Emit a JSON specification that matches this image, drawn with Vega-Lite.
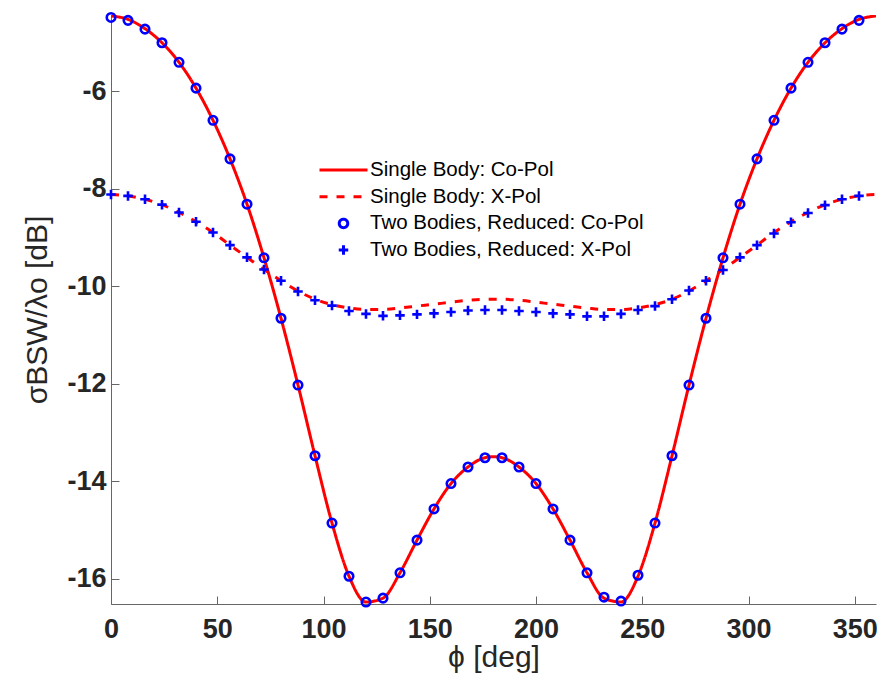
{
  "$schema": "https://vega.github.io/schema/vega-lite/v6.json",
  "width": 765,
  "height": 589,
  "autosize": {"type": "none"},
  "padding": {"left": 111, "top": 15, "right": 5, "bottom": 89},
  "config": {
    "view": {"stroke": null},
    "font": "Liberation Sans",
    "axis": {
      "domainColor": "#666666",
      "domainWidth": 1,
      "tickColor": "#666666",
      "tickSize": -8,
      "tickWidth": 1,
      "grid": false,
      "labelFlush": false,
      "labelOverlap": false,
      "labelFont": "Liberation Sans",
      "labelFontWeight": "bold",
      "labelFontSize": 27,
      "labelColor": "#262626",
      "labelExpr": "'' + datum.value",
      "titleFont": "Liberation Sans",
      "titleFontWeight": "normal",
      "titleFontSize": 30,
      "titleColor": "#262626"
    },
    "legend": {
      "padding": 0,
      "labelFont": "Liberation Sans",
      "labelFontSize": 20.5,
      "labelColor": "#000000",
      "labelOffset": 1,
      "rowPadding": 4.7,
      "clipHeight": 22,
      "symbolStrokeWidth": 3,
      "labelLimit": 400
    }
  },
  "datasets": {
    "lines": [
      {"phi": 0, "value": -4.46, "series": "Single Body: Co-Pol"},
      {"phi": 8, "value": -4.53, "series": "Single Body: Co-Pol"},
      {"phi": 16, "value": -4.72, "series": "Single Body: Co-Pol"},
      {"phi": 24, "value": -5.01, "series": "Single Body: Co-Pol"},
      {"phi": 32, "value": -5.41, "series": "Single Body: Co-Pol"},
      {"phi": 40, "value": -5.94, "series": "Single Body: Co-Pol"},
      {"phi": 48, "value": -6.6, "series": "Single Body: Co-Pol"},
      {"phi": 56, "value": -7.39, "series": "Single Body: Co-Pol"},
      {"phi": 64, "value": -8.32, "series": "Single Body: Co-Pol"},
      {"phi": 72, "value": -9.42, "series": "Single Body: Co-Pol"},
      {"phi": 80, "value": -10.66, "series": "Single Body: Co-Pol"},
      {"phi": 88, "value": -12.03, "series": "Single Body: Co-Pol"},
      {"phi": 96, "value": -13.48, "series": "Single Body: Co-Pol"},
      {"phi": 104, "value": -14.86, "series": "Single Body: Co-Pol"},
      {"phi": 112, "value": -15.95, "series": "Single Body: Co-Pol"},
      {"phi": 120, "value": -16.48, "series": "Single Body: Co-Pol"},
      {"phi": 128, "value": -16.4, "series": "Single Body: Co-Pol"},
      {"phi": 136, "value": -15.88, "series": "Single Body: Co-Pol"},
      {"phi": 144, "value": -15.21, "series": "Single Body: Co-Pol"},
      {"phi": 152, "value": -14.57, "series": "Single Body: Co-Pol"},
      {"phi": 160, "value": -14.05, "series": "Single Body: Co-Pol"},
      {"phi": 168, "value": -13.71, "series": "Single Body: Co-Pol"},
      {"phi": 176, "value": -13.52, "series": "Single Body: Co-Pol"},
      {"phi": 180, "value": -13.5, "series": "Single Body: Co-Pol"},
      {"phi": 184, "value": -13.52, "series": "Single Body: Co-Pol"},
      {"phi": 192, "value": -13.71, "series": "Single Body: Co-Pol"},
      {"phi": 200, "value": -14.05, "series": "Single Body: Co-Pol"},
      {"phi": 208, "value": -14.57, "series": "Single Body: Co-Pol"},
      {"phi": 216, "value": -15.21, "series": "Single Body: Co-Pol"},
      {"phi": 224, "value": -15.88, "series": "Single Body: Co-Pol"},
      {"phi": 232, "value": -16.4, "series": "Single Body: Co-Pol"},
      {"phi": 240, "value": -16.48, "series": "Single Body: Co-Pol"},
      {"phi": 248, "value": -15.95, "series": "Single Body: Co-Pol"},
      {"phi": 256, "value": -14.86, "series": "Single Body: Co-Pol"},
      {"phi": 264, "value": -13.48, "series": "Single Body: Co-Pol"},
      {"phi": 272, "value": -12.03, "series": "Single Body: Co-Pol"},
      {"phi": 280, "value": -10.66, "series": "Single Body: Co-Pol"},
      {"phi": 288, "value": -9.42, "series": "Single Body: Co-Pol"},
      {"phi": 296, "value": -8.32, "series": "Single Body: Co-Pol"},
      {"phi": 304, "value": -7.39, "series": "Single Body: Co-Pol"},
      {"phi": 312, "value": -6.6, "series": "Single Body: Co-Pol"},
      {"phi": 320, "value": -5.94, "series": "Single Body: Co-Pol"},
      {"phi": 328, "value": -5.41, "series": "Single Body: Co-Pol"},
      {"phi": 336, "value": -5.01, "series": "Single Body: Co-Pol"},
      {"phi": 344, "value": -4.72, "series": "Single Body: Co-Pol"},
      {"phi": 352, "value": -4.53, "series": "Single Body: Co-Pol"},
      {"phi": 360, "value": -4.46, "series": "Single Body: Co-Pol"},
      {"phi": 0, "value": -8.12, "series": "Single Body: X-Pol"},
      {"phi": 8, "value": -8.15, "series": "Single Body: X-Pol"},
      {"phi": 16, "value": -8.22, "series": "Single Body: X-Pol"},
      {"phi": 24, "value": -8.33, "series": "Single Body: X-Pol"},
      {"phi": 32, "value": -8.49, "series": "Single Body: X-Pol"},
      {"phi": 40, "value": -8.68, "series": "Single Body: X-Pol"},
      {"phi": 48, "value": -8.9, "series": "Single Body: X-Pol"},
      {"phi": 56, "value": -9.16, "series": "Single Body: X-Pol"},
      {"phi": 64, "value": -9.41, "series": "Single Body: X-Pol"},
      {"phi": 72, "value": -9.66, "series": "Single Body: X-Pol"},
      {"phi": 80, "value": -9.89, "series": "Single Body: X-Pol"},
      {"phi": 88, "value": -10.1, "series": "Single Body: X-Pol"},
      {"phi": 96, "value": -10.27, "series": "Single Body: X-Pol"},
      {"phi": 104, "value": -10.38, "series": "Single Body: X-Pol"},
      {"phi": 112, "value": -10.45, "series": "Single Body: X-Pol"},
      {"phi": 120, "value": -10.48, "series": "Single Body: X-Pol"},
      {"phi": 128, "value": -10.48, "series": "Single Body: X-Pol"},
      {"phi": 136, "value": -10.45, "series": "Single Body: X-Pol"},
      {"phi": 144, "value": -10.41, "series": "Single Body: X-Pol"},
      {"phi": 152, "value": -10.37, "series": "Single Body: X-Pol"},
      {"phi": 160, "value": -10.33, "series": "Single Body: X-Pol"},
      {"phi": 168, "value": -10.29, "series": "Single Body: X-Pol"},
      {"phi": 176, "value": -10.27, "series": "Single Body: X-Pol"},
      {"phi": 180, "value": -10.27, "series": "Single Body: X-Pol"},
      {"phi": 184, "value": -10.27, "series": "Single Body: X-Pol"},
      {"phi": 192, "value": -10.29, "series": "Single Body: X-Pol"},
      {"phi": 200, "value": -10.33, "series": "Single Body: X-Pol"},
      {"phi": 208, "value": -10.37, "series": "Single Body: X-Pol"},
      {"phi": 216, "value": -10.41, "series": "Single Body: X-Pol"},
      {"phi": 224, "value": -10.45, "series": "Single Body: X-Pol"},
      {"phi": 232, "value": -10.48, "series": "Single Body: X-Pol"},
      {"phi": 240, "value": -10.48, "series": "Single Body: X-Pol"},
      {"phi": 248, "value": -10.45, "series": "Single Body: X-Pol"},
      {"phi": 256, "value": -10.38, "series": "Single Body: X-Pol"},
      {"phi": 264, "value": -10.27, "series": "Single Body: X-Pol"},
      {"phi": 272, "value": -10.1, "series": "Single Body: X-Pol"},
      {"phi": 280, "value": -9.89, "series": "Single Body: X-Pol"},
      {"phi": 288, "value": -9.66, "series": "Single Body: X-Pol"},
      {"phi": 296, "value": -9.41, "series": "Single Body: X-Pol"},
      {"phi": 304, "value": -9.16, "series": "Single Body: X-Pol"},
      {"phi": 312, "value": -8.9, "series": "Single Body: X-Pol"},
      {"phi": 320, "value": -8.68, "series": "Single Body: X-Pol"},
      {"phi": 328, "value": -8.49, "series": "Single Body: X-Pol"},
      {"phi": 336, "value": -8.33, "series": "Single Body: X-Pol"},
      {"phi": 344, "value": -8.22, "series": "Single Body: X-Pol"},
      {"phi": 352, "value": -8.15, "series": "Single Body: X-Pol"},
      {"phi": 360, "value": -8.12, "series": "Single Body: X-Pol"}
    ],
    "points": [
      {"phi": 0, "value": -4.49, "series": "Two Bodies, Reduced: Co-Pol"},
      {"phi": 8, "value": -4.55, "series": "Two Bodies, Reduced: Co-Pol"},
      {"phi": 16, "value": -4.73, "series": "Two Bodies, Reduced: Co-Pol"},
      {"phi": 24, "value": -5.01, "series": "Two Bodies, Reduced: Co-Pol"},
      {"phi": 32, "value": -5.41, "series": "Two Bodies, Reduced: Co-Pol"},
      {"phi": 40, "value": -5.94, "series": "Two Bodies, Reduced: Co-Pol"},
      {"phi": 48, "value": -6.6, "series": "Two Bodies, Reduced: Co-Pol"},
      {"phi": 56, "value": -7.39, "series": "Two Bodies, Reduced: Co-Pol"},
      {"phi": 64, "value": -8.32, "series": "Two Bodies, Reduced: Co-Pol"},
      {"phi": 72, "value": -9.42, "series": "Two Bodies, Reduced: Co-Pol"},
      {"phi": 80, "value": -10.66, "series": "Two Bodies, Reduced: Co-Pol"},
      {"phi": 88, "value": -12.03, "series": "Two Bodies, Reduced: Co-Pol"},
      {"phi": 96, "value": -13.48, "series": "Two Bodies, Reduced: Co-Pol"},
      {"phi": 104, "value": -14.86, "series": "Two Bodies, Reduced: Co-Pol"},
      {"phi": 112, "value": -15.95, "series": "Two Bodies, Reduced: Co-Pol"},
      {"phi": 120, "value": -16.48, "series": "Two Bodies, Reduced: Co-Pol"},
      {"phi": 128, "value": -16.4, "series": "Two Bodies, Reduced: Co-Pol"},
      {"phi": 136, "value": -15.88, "series": "Two Bodies, Reduced: Co-Pol"},
      {"phi": 144, "value": -15.21, "series": "Two Bodies, Reduced: Co-Pol"},
      {"phi": 152, "value": -14.57, "series": "Two Bodies, Reduced: Co-Pol"},
      {"phi": 160, "value": -14.05, "series": "Two Bodies, Reduced: Co-Pol"},
      {"phi": 168, "value": -13.71, "series": "Two Bodies, Reduced: Co-Pol"},
      {"phi": 176, "value": -13.52, "series": "Two Bodies, Reduced: Co-Pol"},
      {"phi": 184, "value": -13.52, "series": "Two Bodies, Reduced: Co-Pol"},
      {"phi": 192, "value": -13.71, "series": "Two Bodies, Reduced: Co-Pol"},
      {"phi": 200, "value": -14.05, "series": "Two Bodies, Reduced: Co-Pol"},
      {"phi": 208, "value": -14.57, "series": "Two Bodies, Reduced: Co-Pol"},
      {"phi": 216, "value": -15.21, "series": "Two Bodies, Reduced: Co-Pol"},
      {"phi": 224, "value": -15.88, "series": "Two Bodies, Reduced: Co-Pol"},
      {"phi": 232, "value": -16.38, "series": "Two Bodies, Reduced: Co-Pol"},
      {"phi": 240, "value": -16.46, "series": "Two Bodies, Reduced: Co-Pol"},
      {"phi": 248, "value": -15.93, "series": "Two Bodies, Reduced: Co-Pol"},
      {"phi": 256, "value": -14.86, "series": "Two Bodies, Reduced: Co-Pol"},
      {"phi": 264, "value": -13.48, "series": "Two Bodies, Reduced: Co-Pol"},
      {"phi": 272, "value": -12.03, "series": "Two Bodies, Reduced: Co-Pol"},
      {"phi": 280, "value": -10.66, "series": "Two Bodies, Reduced: Co-Pol"},
      {"phi": 288, "value": -9.42, "series": "Two Bodies, Reduced: Co-Pol"},
      {"phi": 296, "value": -8.32, "series": "Two Bodies, Reduced: Co-Pol"},
      {"phi": 304, "value": -7.39, "series": "Two Bodies, Reduced: Co-Pol"},
      {"phi": 312, "value": -6.6, "series": "Two Bodies, Reduced: Co-Pol"},
      {"phi": 320, "value": -5.94, "series": "Two Bodies, Reduced: Co-Pol"},
      {"phi": 328, "value": -5.41, "series": "Two Bodies, Reduced: Co-Pol"},
      {"phi": 336, "value": -5.01, "series": "Two Bodies, Reduced: Co-Pol"},
      {"phi": 344, "value": -4.73, "series": "Two Bodies, Reduced: Co-Pol"},
      {"phi": 352, "value": -4.55, "series": "Two Bodies, Reduced: Co-Pol"},
      {"phi": 0, "value": -8.12, "series": "Two Bodies, Reduced: X-Pol"},
      {"phi": 8, "value": -8.15, "series": "Two Bodies, Reduced: X-Pol"},
      {"phi": 16, "value": -8.22, "series": "Two Bodies, Reduced: X-Pol"},
      {"phi": 24, "value": -8.33, "series": "Two Bodies, Reduced: X-Pol"},
      {"phi": 32, "value": -8.49, "series": "Two Bodies, Reduced: X-Pol"},
      {"phi": 40, "value": -8.68, "series": "Two Bodies, Reduced: X-Pol"},
      {"phi": 48, "value": -8.9, "series": "Two Bodies, Reduced: X-Pol"},
      {"phi": 56, "value": -9.16, "series": "Two Bodies, Reduced: X-Pol"},
      {"phi": 64, "value": -9.41, "series": "Two Bodies, Reduced: X-Pol"},
      {"phi": 72, "value": -9.66, "series": "Two Bodies, Reduced: X-Pol"},
      {"phi": 80, "value": -9.89, "series": "Two Bodies, Reduced: X-Pol"},
      {"phi": 88, "value": -10.11, "series": "Two Bodies, Reduced: X-Pol"},
      {"phi": 96, "value": -10.29, "series": "Two Bodies, Reduced: X-Pol"},
      {"phi": 104, "value": -10.4, "series": "Two Bodies, Reduced: X-Pol"},
      {"phi": 112, "value": -10.51, "series": "Two Bodies, Reduced: X-Pol"},
      {"phi": 120, "value": -10.57, "series": "Two Bodies, Reduced: X-Pol"},
      {"phi": 128, "value": -10.61, "series": "Two Bodies, Reduced: X-Pol"},
      {"phi": 136, "value": -10.6, "series": "Two Bodies, Reduced: X-Pol"},
      {"phi": 144, "value": -10.58, "series": "Two Bodies, Reduced: X-Pol"},
      {"phi": 152, "value": -10.56, "series": "Two Bodies, Reduced: X-Pol"},
      {"phi": 160, "value": -10.53, "series": "Two Bodies, Reduced: X-Pol"},
      {"phi": 168, "value": -10.5, "series": "Two Bodies, Reduced: X-Pol"},
      {"phi": 176, "value": -10.49, "series": "Two Bodies, Reduced: X-Pol"},
      {"phi": 184, "value": -10.49, "series": "Two Bodies, Reduced: X-Pol"},
      {"phi": 192, "value": -10.51, "series": "Two Bodies, Reduced: X-Pol"},
      {"phi": 200, "value": -10.53, "series": "Two Bodies, Reduced: X-Pol"},
      {"phi": 208, "value": -10.56, "series": "Two Bodies, Reduced: X-Pol"},
      {"phi": 216, "value": -10.58, "series": "Two Bodies, Reduced: X-Pol"},
      {"phi": 224, "value": -10.62, "series": "Two Bodies, Reduced: X-Pol"},
      {"phi": 232, "value": -10.62, "series": "Two Bodies, Reduced: X-Pol"},
      {"phi": 240, "value": -10.57, "series": "Two Bodies, Reduced: X-Pol"},
      {"phi": 248, "value": -10.49, "series": "Two Bodies, Reduced: X-Pol"},
      {"phi": 256, "value": -10.41, "series": "Two Bodies, Reduced: X-Pol"},
      {"phi": 264, "value": -10.27, "series": "Two Bodies, Reduced: X-Pol"},
      {"phi": 272, "value": -10.09, "series": "Two Bodies, Reduced: X-Pol"},
      {"phi": 280, "value": -9.89, "series": "Two Bodies, Reduced: X-Pol"},
      {"phi": 288, "value": -9.67, "series": "Two Bodies, Reduced: X-Pol"},
      {"phi": 296, "value": -9.41, "series": "Two Bodies, Reduced: X-Pol"},
      {"phi": 304, "value": -9.16, "series": "Two Bodies, Reduced: X-Pol"},
      {"phi": 312, "value": -8.92, "series": "Two Bodies, Reduced: X-Pol"},
      {"phi": 320, "value": -8.69, "series": "Two Bodies, Reduced: X-Pol"},
      {"phi": 328, "value": -8.5, "series": "Two Bodies, Reduced: X-Pol"},
      {"phi": 336, "value": -8.34, "series": "Two Bodies, Reduced: X-Pol"},
      {"phi": 344, "value": -8.22, "series": "Two Bodies, Reduced: X-Pol"},
      {"phi": 352, "value": -8.15, "series": "Two Bodies, Reduced: X-Pol"}
    ]
  },
  "encoding": {
    "x": {
      "field": "phi",
      "type": "quantitative",
      "scale": {"domain": [0, 360], "nice": false},
      "axis": {"values": [0, 50, 100, 150, 200, 250, 300, 350], "title": "ϕ [deg]", "labelPadding": 20, "titlePadding": 0}
    },
    "y": {
      "field": "value",
      "type": "quantitative",
      "scale": {"domain": [-16.52, -4.44], "nice": false, "zero": false},
      "axis": {"values": [-16, -14, -12, -10, -8, -6], "title": "σBSW/λo [dB]", "labelPadding": 13, "titlePadding": 14}
    }
  },
  "layer": [
    {
      "data": {"name": "lines"},
      "mark": {"type": "line", "strokeWidth": 3, "interpolate": "monotone", "clip": true},
      "encoding": {
        "detail": {"field": "series"},
        "color": {
          "field": "series",
          "type": "nominal",
          "scale": {
            "domain": ["Single Body: Co-Pol", "Single Body: X-Pol", "Two Bodies, Reduced: Co-Pol", "Two Bodies, Reduced: X-Pol"],
            "range": ["#ff0000", "#ff0000", "#0000ff", "#0000ff"]
          },
          "legend": {"title": null, "orient": "none", "legendX": 207, "legendY": 144}
        },
        "strokeDash": {
          "field": "series",
          "type": "nominal",
          "scale": {
            "domain": ["Single Body: Co-Pol", "Single Body: X-Pol", "Two Bodies, Reduced: Co-Pol", "Two Bodies, Reduced: X-Pol"],
            "range": [[1, 0], [8, 9], [1, 0], [1, 0]]
          },
          "legend": {"title": null, "orient": "none", "legendX": 207, "legendY": 144}
        }
      }
    },
    {
      "data": {"name": "points"},
      "mark": {"type": "point", "filled": false, "strokeWidth": 2.6, "opacity": 1, "clip": false},
      "encoding": {
        "color": {
          "field": "series",
          "type": "nominal",
          "scale": {
            "domain": ["Single Body: Co-Pol", "Single Body: X-Pol", "Two Bodies, Reduced: Co-Pol", "Two Bodies, Reduced: X-Pol"],
            "range": ["#ff0000", "#ff0000", "#0000ff", "#0000ff"]
          },
          "legend": {"title": null, "orient": "none", "legendX": 207, "legendY": 144}
        },
        "shape": {
          "field": "series",
          "type": "nominal",
          "scale": {
            "domain": ["Single Body: Co-Pol", "Single Body: X-Pol", "Two Bodies, Reduced: Co-Pol", "Two Bodies, Reduced: X-Pol"],
            "range": ["stroke", "stroke", "circle", "M-1,0H1M0,-1V1"]
          },
          "legend": {"title": null, "orient": "none", "legendX": 207, "legendY": 144}
        },
        "size": {
          "field": "series",
          "type": "nominal",
          "scale": {
            "type": "ordinal",
            "domain": ["Single Body: Co-Pol", "Single Body: X-Pol", "Two Bodies, Reduced: Co-Pol", "Two Bodies, Reduced: X-Pol"],
            "range": [2304, 2304, 72, 90]
          },
          "legend": {"title": null, "orient": "none", "legendX": 207, "legendY": 144}
        }
      }
    }
  ]
}
